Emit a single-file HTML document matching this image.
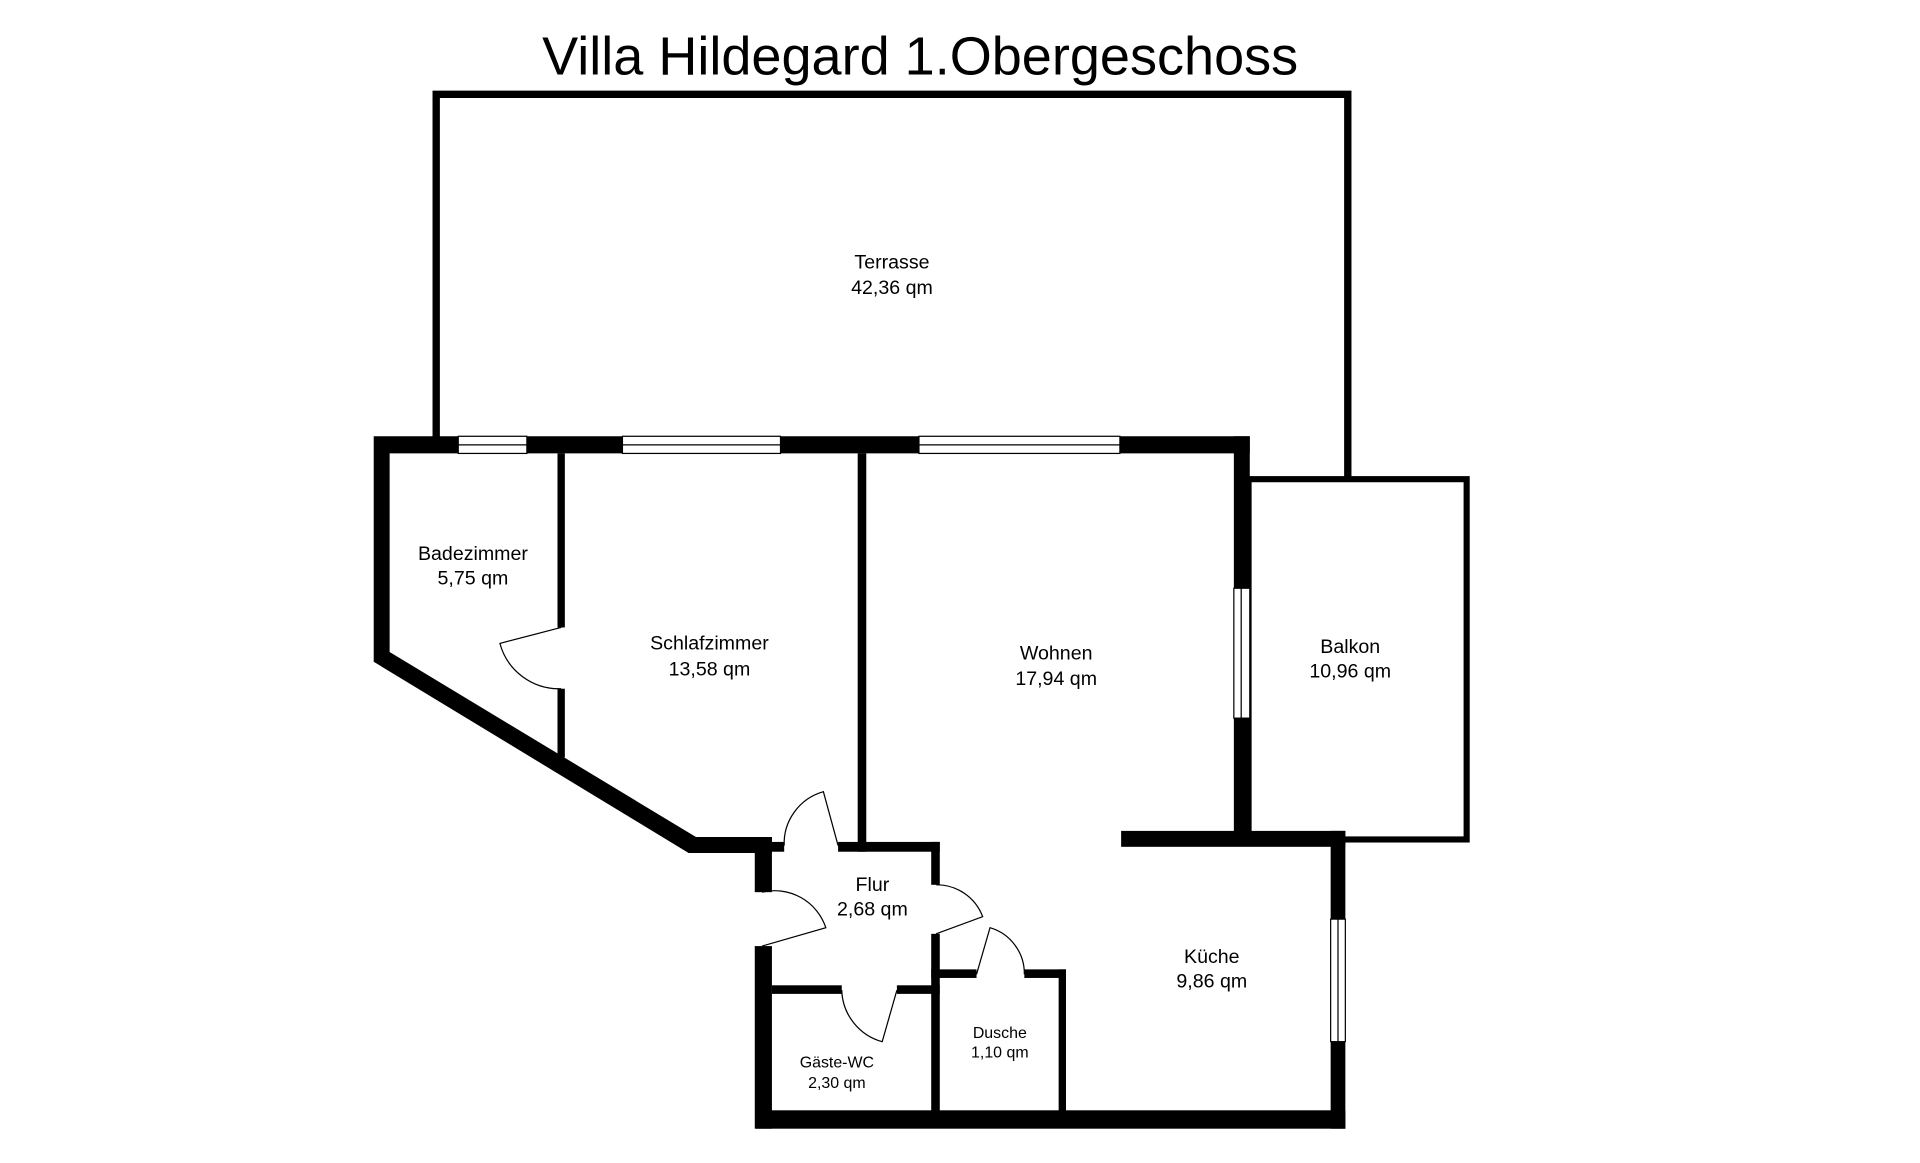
<!DOCTYPE html>
<html><head><meta charset="utf-8"><style>
html,body{margin:0;padding:0;background:#fff;}
svg{display:block;}
text{font-family:"Liberation Sans",sans-serif;fill:#000;text-anchor:middle;}
</style></head><body>
<svg width="1920" height="1163" viewBox="0 0 1567 949" preserveAspectRatio="none" xmlns="http://www.w3.org/2000/svg">
<rect width="1567" height="949" fill="#fff"/>
<text x="751" y="61" font-size="44" textLength="617" lengthAdjust="spacingAndGlyphs">Villa Hildegard 1.Obergeschoss</text>
<path d="M356,358 V77 H1100 V392" fill="none" stroke="#000" stroke-width="6"/>
<rect x="1019" y="391" width="178" height="294" fill="none" stroke="#000" stroke-width="5"/>
<g fill="#000">
<polygon points="305,356 1020,356 1020,370 318,370 318,532 568,683 630,683 630,696 562,696 305,540"/>
<rect x="1007" y="356" width="13" height="124"/>
<rect x="1007" y="586" width="13" height="100"/>
<rect x="915" y="678" width="183" height="13"/>
<rect x="1086" y="678" width="12" height="72"/>
<rect x="1086" y="850" width="12" height="71"/>
<rect x="617" y="906" width="481" height="15"/>
<rect x="616" y="683" width="14" height="45"/>
<rect x="616" y="772" width="14" height="149"/>
<rect x="455" y="370" width="6" height="142"/>
<rect x="455" y="562" width="6" height="56"/>
<rect x="700" y="370" width="7" height="325"/>
<rect x="630" y="687" width="10" height="8"/>
<rect x="684" y="687" width="83" height="8"/>
<rect x="760" y="687" width="7" height="35"/>
<rect x="760" y="762" width="7" height="150"/>
<rect x="630" y="804" width="57" height="7"/>
<rect x="732" y="804" width="35" height="7"/>
<rect x="760" y="791" width="37" height="7"/>
<rect x="836" y="791" width="34" height="7"/>
<rect x="864" y="791" width="6" height="120"/>
</g>
<g fill="#fff" stroke="#000" stroke-width="1">
<rect x="374" y="356" width="56" height="14"/>
<rect x="508" y="356" width="129" height="14"/>
<rect x="750" y="356" width="164" height="14"/>
<rect x="1007" y="480" width="13" height="106"/>
<rect x="1086" y="750" width="12" height="100"/>
</g>
<g stroke="#000" stroke-width="1">
<line x1="374" y1="363" x2="430" y2="363"/>
<line x1="508" y1="363" x2="637" y2="363"/>
<line x1="750" y1="363" x2="914" y2="363"/>
<line x1="1013" y1="480" x2="1013" y2="586"/>
<line x1="1092" y1="750" x2="1092" y2="850"/>
</g>
<g fill="none" stroke="#000" stroke-width="1">
<path d="M458,512 L408,525 A50,50 0 0 0 458,562"/>
<path d="M684,690 L672,646 A44,44 0 0 0 640,690"/>
<path d="M622,772 L674,757 A44,44 0 0 0 622,728"/>
<path d="M764,762 L802,748 A40,40 0 0 0 764,722"/>
<path d="M797,795 L808,757 A39,39 0 0 1 836,795"/>
<path d="M732,808 L720,850 A45,45 0 0 1 687,808"/>
</g>
<g font-size="16">
<text x="728" y="219">Terrasse</text><text x="728" y="240">42,36 qm</text>
<text x="386" y="457">Badezimmer</text><text x="386" y="477">5,75 qm</text>
<text x="579" y="530">Schlafzimmer</text><text x="579" y="551">13,58 qm</text>
<text x="862" y="538">Wohnen</text><text x="862" y="559">17,94 qm</text>
<text x="1102" y="533">Balkon</text><text x="1102" y="553">10,96 qm</text>
<text x="712" y="727">Flur</text><text x="712" y="747">2,68 qm</text>
<text x="989" y="786">Küche</text><text x="989" y="806">9,86 qm</text>
</g>
<g font-size="13">
<text x="816" y="847">Dusche</text><text x="816" y="863">1,10 qm</text>
<text x="683" y="871">Gäste-WC</text><text x="683" y="888">2,30 qm</text>
</g>
</svg>
</body></html>
